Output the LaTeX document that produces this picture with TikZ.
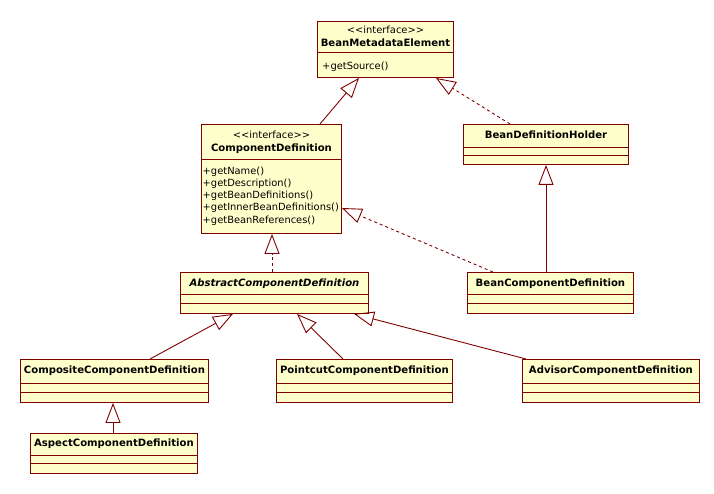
\documentclass[tikz,border=0pt]{standalone}
\usepackage{fontspec}
\setmainfont{DejaVu Sans}
\usetikzlibrary{arrows.meta}
\definecolor{umlfill}{RGB}{255,255,204}
\definecolor{umlline}{RGB}{128,0,0}
\tikzset{
    classbox/.style = {rectangle, draw=umlline, fill=umlfill, line width=0.9pt, anchor=north west, inner sep=0pt},
    cname/.style = {inner sep=0pt, anchor=mid, font=\fontsize{10.1}{12}\selectfont\bfseries},
    stereo/.style = {inner sep=0pt, anchor=mid, font=\fontsize{9.9}{12}\selectfont},
    op/.style = {inner sep=0pt, anchor=mid west, font=\fontsize{9.9}{12}\selectfont},
    sepline/.style = {draw=umlline, line width=0.9pt},
    gen/.style = {draw=umlline, line width=0.9pt, -{Triangle[open, length=20pt, width=15pt]}},
    real/.style = {gen, dash pattern=on 3pt off 3pt}
}
\begin{document}
\begin{tikzpicture}[x=1pt, y=-1pt]
    \useasboundingbox (0,0) rectangle (714,494);

    % interfaces
    \node [classbox, minimum width=136pt, minimum height=56pt] (bme) at (317,21) {};
    \node [stereo] (bme-st) at ([yshift=-10pt]bme.north) {<\kern0pt<interface>\kern0pt>};
    \node [cname] (bme-nm) at ([yshift=-23pt]bme.north) {BeanMetadataElement};
    \draw [sepline] ([yshift=-31pt]bme.north west) -- ([yshift=-31pt]bme.north east);
    \node [op] (bme-op1) at ([xshift=5pt, yshift=-46pt]bme.north west) {+getSource()};

    \node [classbox, minimum width=140pt, minimum height=109pt] (cd) at (201,124) {};
    \node [stereo] (cd-st) at ([yshift=-12pt]cd.north) {<\kern0pt<interface>\kern0pt>};
    \node [cname] (cd-nm) at ([yshift=-25pt]cd.north) {ComponentDefinition};
    \draw [sepline] ([yshift=-35pt]cd.north west) -- ([yshift=-35pt]cd.north east);
    \foreach \opname [count=\i] in {getName(), getDescription(), getBeanDefinitions(), getInnerBeanDefinitions(), getBeanReferences()}
        \node [op] (cd-op\i) at ([xshift=1.5pt, yshift={-47.5pt-12.2pt*(\i-1)}]cd.north west) {+\opname};

    % classes
    \node [classbox, minimum width=165pt, minimum height=40pt] (bdh) at (463,124) {};
    \node [cname] (bdh-nm) at ([yshift=-12pt]bdh.north) {BeanDefinitionHolder};

    \node [classbox, minimum width=188pt, minimum height=41pt] (acd) at (180,272) {};
    \node [cname, font=\fontsize{10.1}{12}\selectfont\bfseries\itshape] (acd-nm) at ([yshift=-12pt]acd.north) {AbstractComponentDefinition};

    \node [classbox, minimum width=166pt, minimum height=41pt] (bcd) at (467,272) {};
    \node [cname] (bcd-nm) at ([yshift=-12pt]bcd.north) {BeanComponentDefinition};

    \node [classbox, minimum width=188pt, minimum height=43pt] (ccd) at (20,359) {};
    \node [cname] (ccd-nm) at ([yshift=-12pt]ccd.north) {CompositeComponentDefinition};

    \node [classbox, minimum width=176pt, minimum height=43pt] (pcd) at (276,359) {};
    \node [cname] (pcd-nm) at ([yshift=-12pt]pcd.north) {PointcutComponentDefinition};

    \node [classbox, minimum width=177pt, minimum height=43pt] (advcd) at (522,359) {};
    \node [cname] (advcd-nm) at ([yshift=-12pt]advcd.north) {AdvisorComponentDefinition};

    \node [classbox, minimum width=167pt, minimum height=40pt] (aspcd) at (30,433) {};
    \node [cname] (aspcd-nm) at ([yshift=-11pt]aspcd.north) {AspectComponentDefinition};

    % empty compartments
    \foreach \cls/\sa/\sb in {bdh/23/31, acd/22/31, bcd/22/31, ccd/24/33, pcd/24/33, advcd/24/33, aspcd/22/30} {
        \draw [sepline] ([yshift=-\sa pt]\cls.north west) -- ([yshift=-\sa pt]\cls.north east);
        \draw [sepline] ([yshift=-\sb pt]\cls.north west) -- ([yshift=-\sb pt]\cls.north east);
    }

    % generalizations and realizations
    \draw [gen] ([xshift=119pt]cd.north west) -- ([xshift=42pt]bme.south west);
    \draw [real] ([xshift=47pt]bdh.north west) -- ([xshift=-18pt]bme.south east);
    \draw [real] ([xshift=26pt]bcd.north west) -- ([yshift=-84pt]cd.north east);
    \draw [gen] ([xshift=79pt]bcd.north west) -- ([xshift=83pt]bdh.south west);
    \draw [real] ([xshift=92pt]acd.north west) -- ([xshift=71pt]cd.south west);
    \draw [gen] ([xshift=130pt]ccd.north west) -- ([xshift=53pt]acd.south west);
    \draw [gen] ([xshift=67pt]pcd.north west) -- ([xshift=117pt]acd.south west);
    \draw [gen] ([xshift=4pt]advcd.north west) -- ([xshift=174pt]acd.south west);
    \draw [gen] ([xshift=83pt]aspcd.north west) -- ([xshift=93pt]ccd.south west);
\end{tikzpicture}
\end{document}
